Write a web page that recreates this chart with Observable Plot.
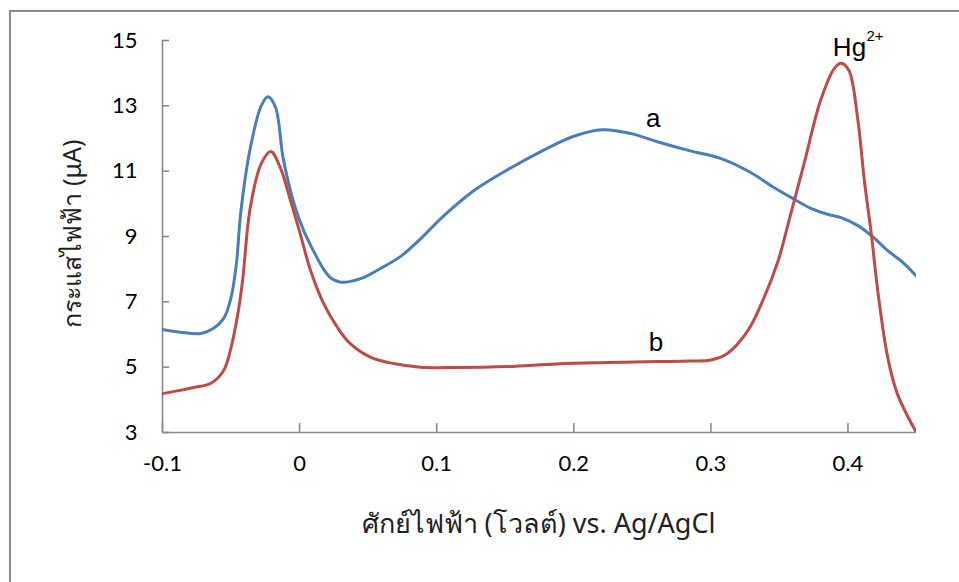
<!DOCTYPE html>
<html>
<head>
<meta charset="utf-8">
<script src="https://cdn.jsdelivr.net/npm/d3@7"></script>
<script src="https://cdn.jsdelivr.net/npm/@observablehq/plot@0.6"></script>
<style>
  html, body { margin: 0; padding: 0; background: #fff; overflow: hidden; }
  #wrap { position: relative; width: 959px; height: 582px; overflow: hidden; }
  #frame { position: absolute; left: 9px; top: 10px; width: 1200px; height: 900px;
           border: 2px solid #8c8c8c; box-sizing: border-box; }
  #chart { position: absolute; left: 0; top: 0; }
</style>
</head>
<body>
<div id="wrap"><div id="frame"></div><div id="chart"></div></div>
<script>
// Curve a: potential (V vs. Ag/AgCl) and current (µA)
const aPotential = [-0.100, -0.087, -0.072, -0.063, -0.055, -0.050, -0.046, -0.043, -0.036, -0.028, -0.023, -0.0175,
  -0.012, -0.004, 0.003, 0.010, 0.0175, 0.023, 0.030, 0.0445, 0.059, 0.074, 0.088, 0.103, 0.127, 0.152, 0.176,
  0.200, 0.221, 0.242, 0.261, 0.285, 0.307, 0.329, 0.346, 0.360, 0.373, 0.385, 0.395, 0.407, 0.417,
  0.429, 0.441, 0.450];
const aCurrent = [6.15, 6.07, 6.03, 6.18, 6.52, 7.13, 8.20, 9.70, 11.70, 13.00, 13.28, 12.95,
  11.40, 10.00, 9.18, 8.57, 8.00, 7.72, 7.60, 7.71, 8.02, 8.40, 8.92, 9.55, 10.40, 11.05, 11.60,
  12.07, 12.27, 12.15, 11.90, 11.62, 11.39, 10.96, 10.50, 10.16, 9.86, 9.68, 9.58, 9.34, 9.03,
  8.57, 8.17, 7.78];

// Curve b: potential (V vs. Ag/AgCl) and current (µA)
const bPotential = [-0.100, -0.087, -0.077, -0.065, -0.0554, -0.050, -0.045, -0.0416, -0.036, -0.028, -0.021, -0.014,
  -0.0066, 0.000, 0.008, 0.0175, 0.0277, 0.037, 0.052, 0.0686, 0.088, 0.115, 0.152, 0.188, 0.225,
  0.261, 0.285, 0.300, 0.312, 0.327, 0.338, 0.349, 0.358, 0.368, 0.380, 0.390, 0.395, 0.4007, 0.407,
  0.412, 0.417, 0.422, 0.429, 0.436, 0.444, 0.450];
const bCurrent = [4.19, 4.29, 4.38, 4.50, 4.90, 5.60, 6.64, 7.65, 9.88, 11.23, 11.60, 11.10,
  10.10, 9.15, 7.96, 6.95, 6.21, 5.72, 5.30, 5.11, 5.00, 4.99, 5.02, 5.10, 5.14,
  5.17, 5.19, 5.22, 5.42, 6.12, 7.05, 8.25, 9.65, 11.23, 13.16, 14.14, 14.30, 14.08, 12.64,
  10.70, 9.09, 7.25, 5.30, 4.19, 3.46, 3.00];

const xTicks = [-0.1, 0, 0.1, 0.2, 0.3, 0.4];
const xTickLabels = ["-0.1", "0", "0.1", "0.2", "0.3", "0.4"];
const yTicks = [3, 5, 7, 9, 11, 13, 15];
const xTitle = "ศักย์ไฟฟ้า (โวลต์) vs. Ag/AgCl";
const yTitle = "กระแสไฟฟ้า (μA)";

// Curve annotations
const curveLabels = [
  {text: "a", x: 0.258, y: 12.34},
  {text: "b", x: 0.260, y: 5.51}
];
const ionLabel = [{text: "Hg", x: 0.389, y: 14.54}];
const ionCharge = [{text: "2+", x: 0.4135, y: 14.97}];

const seriesA = aPotential.map((x, i) => ({x, y: aCurrent[i]}));
const seriesB = bPotential.map((x, i) => ({x, y: bCurrent[i]}));

const axisColor = "#8a8a8a";
const tickFont = "Lato, 'Open Sans', sans-serif";
const titleFont = "'Noto Sans', 'Open Sans', sans-serif";
const labelFont = "'Liberation Sans', Arial, sans-serif";

const chart = Plot.plot({
  width: 959,
  height: 582,
  marginLeft: 162,
  marginRight: 43,
  marginTop: 40,
  marginBottom: 150,
  style: {background: "transparent", color: "#000"},
  x: {domain: [-0.1, 0.45]},
  y: {domain: [3, 15]},
  marks: [
    Plot.ruleX([-0.1], {stroke: axisColor, strokeWidth: 1.6}),
    Plot.ruleY([3], {stroke: axisColor, strokeWidth: 1.6}),
    Plot.axisY({
      ticks: yTicks, tickSize: -7, tickPadding: 32, stroke: axisColor, strokeWidth: 1.6,
      fontSize: 22, fontFamily: tickFont, fill: "#000", label: null
    }),
    Plot.axisX({
      ticks: xTicks, tickFormat: (d, i) => xTickLabels[i], tickSize: -9, tickPadding: 32,
      stroke: axisColor, strokeWidth: 1.6, fontSize: 22, fontFamily: tickFont, fill: "#000", label: null
    }),
    // Axis titles
    Plot.text([xTitle], {frameAnchor: "bottom", textAnchor: "middle", dx: -1, dy: 100, lineAnchor: "bottom",
      fontSize: 27, fontFamily: titleFont, fill: "#222"}),
    Plot.text([yTitle], {frameAnchor: "left", textAnchor: "middle", dx: -90, dy: -3, rotate: -90,
      fontSize: 25, fontFamily: titleFont, fill: "#222"}),
    Plot.line(seriesA, {x: "x", y: "y", stroke: "#4a7ebb", strokeWidth: 3, curve: "catmull-rom", clip: true}),
    Plot.line(seriesB, {x: "x", y: "y", stroke: "#be4b48", strokeWidth: 3, curve: "catmull-rom", clip: true}),
    Plot.text(curveLabels, {x: "x", y: "y", text: "text", fontSize: 26, lineAnchor: "bottom",
      fontFamily: labelFont, fill: "#000"}),
    Plot.text(ionLabel, {x: "x", y: "y", text: "text", fontSize: 26, lineAnchor: "bottom", textAnchor: "start",
      fontFamily: labelFont, fill: "#000"}),
    Plot.text(ionCharge, {x: "x", y: "y", text: "text", fontSize: 15, lineAnchor: "bottom", textAnchor: "start",
      fontFamily: labelFont, fill: "#000"})
  ]
});

document.getElementById("chart").appendChild(chart);
</script>
</body>
</html>
